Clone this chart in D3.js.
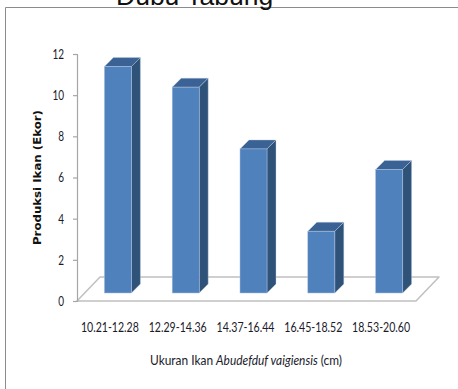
<!DOCTYPE html>
<html><head><meta charset="utf-8">
<script src="https://cdn.jsdelivr.net/npm/d3@7"></script>
<style>html,body{margin:0;padding:0;background:#fff}svg{display:block}</style>
</head><body><div id="c"></div>
<script>
const categories = ["10.21-12.28","12.29-14.36","14.37-16.44","16.45-18.52","18.53-20.60"];
const values = [11,10,7,3,6];
const yTicks = [0,2,4,6,8,10,12];
const titleText = "Dubu Tabung";
const yTitle = "Produksi Ikan (Ekor)";

const W=458,H=389;
const svg=d3.select("#c").append("svg").attr("width",W).attr("height",H);
const x=d3.scaleBand().domain(categories).range([77,416]).paddingInner(0).paddingOuter(0);
const y=d3.scaleLinear().domain([0,12]).range([301,54]);
const depthX=23,depthY=24,barW=27,bd=9,barLift=8,barShift=7;

// frame
svg.append("path").attr("d",`M5.5,${H}V7.5H${W}`).attr("fill","none").attr("stroke","#8c8c8c").attr("stroke-width",1);
svg.append("text").attr("x",116).attr("y",5).attr("font-family","Liberation Sans").attr("font-size",26.5).attr("fill","#111").text(titleText);

// floor
const x0=x.range()[0],x1=x.range()[1],y0=y(0);
svg.append("path").attr("d",`M${x0},${y0}L${x0+depthX},${y0-depthY}H${x1+depthX}L${x1},${y0}Z`)
  .attr("fill","#fff").attr("stroke","#c0c0c0").attr("stroke-width",1.5).attr("stroke-linejoin","round");

// axis
const ax=svg.append("g").attr("transform",`translate(${x0},0)`).call(d3.axisLeft(y).tickValues(yTicks).tickSize(4).tickPadding(9));
ax.selectAll("path,line").attr("stroke","#a6a6a6").attr("stroke-width",1.2);
ax.selectAll("text").attr("font-family","Lato").attr("font-size",14).attr("fill","#1a1a2a")
  .attr("textLength",d=>String(d).length*5.8).attr("lengthAdjust","spacingAndGlyphs");

// bars
const g=svg.append("g").selectAll("g").data(categories.map((c,i)=>({c,v:values[i]}))).join("g");
const bl=d=>x(d.c)+x.bandwidth()/2+barShift-barW/2;
const bt=d=>y(d.v)-barLift;
const bb=y0-barLift;
g.append("path").attr("d",d=>`M${bl(d)},${bt(d)}l${bd},${-bd}h${barW}l${-bd},${bd}Z`).attr("fill","#3A6294").attr("stroke","#c3d2e6").attr("stroke-width",.4);
g.append("path").attr("d",d=>`M${bl(d)+barW},${bt(d)}l${bd},${-bd}V${bb-bd}l${-bd},${bd}Z`).attr("fill","#2F5279").attr("stroke","#c3d2e6").attr("stroke-width",.4);
g.append("rect").attr("x",bl).attr("y",bt).attr("width",barW).attr("height",d=>bb-bt(d)).attr("fill","#4F81BD").attr("stroke","#a9c0de").attr("stroke-width",.5);

// category labels
svg.append("g").selectAll("text").data(categories).join("text")
  .attr("x",c=>x(c)+x.bandwidth()/2-1).attr("y",332).attr("text-anchor","middle")
  .attr("font-family","Lato").attr("font-size",12.5).attr("fill","#1a1a2a")
  .attr("textLength",58).attr("lengthAdjust","spacingAndGlyphs").text(c=>c);

// x title
const xt=svg.append("text").attr("x",150).attr("y",365).attr("font-family","Lato").attr("font-size",12.5).attr("fill","#1a1a2a")
  .attr("textLength",192).attr("lengthAdjust","spacingAndGlyphs");
xt.append("tspan").text("Ukuran Ikan ");
xt.append("tspan").attr("font-style","italic").text("Abudefduf vaigiensis");
xt.append("tspan").text(" (cm)");

// y title
svg.append("text").attr("transform","translate(41,177.5) rotate(-90)").attr("text-anchor","middle")
  .attr("font-family","DejaVu Sans").attr("font-weight","bold").attr("font-size",10).attr("fill","#111")
  .attr("textLength",135).attr("lengthAdjust","spacingAndGlyphs").text(yTitle);
</script></body></html>
